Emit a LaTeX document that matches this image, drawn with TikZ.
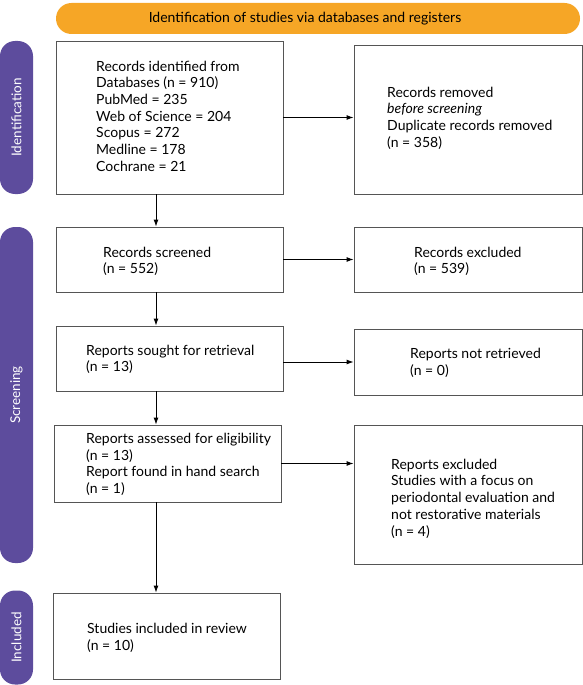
\documentclass[tikz,border=0pt]{standalone}
\usepackage{fontspec}
\setmainfont{Lato}
\usetikzlibrary{arrows.meta}
\definecolor{phasecol}{RGB}{93,76,157}
\definecolor{bannercol}{RGB}{246,166,38}
\definecolor{boxline}{RGB}{85,85,85}
\tikzset{
  box/.style={draw=boxline, line width=0.9pt, rectangle, inner sep=0pt},
  txt/.style={anchor=west, align=left, inner sep=0pt, font=\fontsize{14}{16.7}\selectfont},
  phase/.style={fill=phasecol, rounded corners=15pt, inner sep=0pt, text=white, font=\fontsize{13.5}{15}\selectfont},
  arr/.style={-{Latex[length=7pt,width=5pt]}, line width=0.9pt, black},
}
\begin{document}
\begin{tikzpicture}[x=1pt,y=-1pt]
\useasboundingbox (0,0) rectangle (582,685);
% banner
\node[fill=bannercol, rounded corners=15.5pt, minimum width=524, minimum height=31, inner sep=0pt] (ban) at (318,18.5) {};
\node[font=\fontsize{14}{16}\selectfont, inner sep=0pt] (bant) at (305,18.5) {Identification of studies via databases and registers};
% phases
\node[phase, rotate=90, minimum width=153, minimum height=33] (p1) at (16.5,117.5) {Identification};
\node[phase, rotate=90, minimum width=336, minimum height=33] (p2) at (16.5,395) {Screening};
\node[phase, rotate=90, minimum width=94, minimum height=33] (p3) at (16.5,637.5) {Included};
% boxes
\node[box, minimum width=227, minimum height=153] (b1) at (169.5,117.5) {};
\node[box, minimum width=228, minimum height=149] (b2) at (368+100,119.5) {};
\node[box, minimum width=227, minimum height=65] (b3) at (169.5,259.5) {};
\node[box, minimum width=228, minimum height=65] (b4) at (468,259.5) {};
\node[box, minimum width=227, minimum height=65] (b5) at (169.5,358.5) {};
\node[box, minimum width=228, minimum height=66] (b6) at (468,362) {};
\node[box, minimum width=227, minimum height=77] (b7) at (167.5,463.5) {};
\node[box, minimum width=228, minimum height=139] (b8) at (468,494.5) {};
\node[box, minimum width=227, minimum height=86] (b9) at (166.5,636) {};
% texts
\node[txt] (t1) at (96,116) {Records identified from\\Databases (n = 910)\\PubMed = 235\\Web of Science = 204\\Scopus = 272\\Medline = 178\\Cochrane = 21};
\node[txt] (t2) at (387,118) {Records removed\\\textit{before screening}\\Duplicate records removed\\(n = 358)};
\node[txt] (t3) at (103,261.5) {Records screened\\(n = 552)};
\node[txt] (t4) at (414,261.5) {Records excluded\\(n = 539)};
\node[txt] (t5) at (86,359.5) {Reports sought for retrieval\\(n = 13)};
\node[txt] (t6) at (410,363) {Reports not retrieved\\(n = 0)};
\node[txt] (t7) at (86,464.5) {Reports assessed for eligibility\\(n = 13)\\Report found in hand search\\(n = 1)};
\node[txt] (t8) at (391,498.5) {Reports excluded\\Studies with a focus on\\periodontal evaluation and\\not restorative materials\\(n = 4)};
\node[txt] (t9) at (87,638) {Studies included in review\\(n = 10)};
% arrows
\coordinate (ax) at (156,0);
\draw[arr] (b1.south -| ax) -- (b3.north -| ax);
\draw[arr] (b3.south -| ax) -- (b5.north -| ax);
\draw[arr] (b5.south -| ax) -- (b7.north -| ax);
\draw[arr] (b7.south -| ax) -- (b9.north -| ax);
\draw[arr] (b1.east) -- (b1.east -| b2.west);
\draw[arr] (b3.east) -- (b4.west);
\draw[arr] (b5.east |- b6.west) -- (b6.west);
\draw[arr] (b7.east) -- (b7.east -| b8.west);
\end{tikzpicture}
\end{document}
